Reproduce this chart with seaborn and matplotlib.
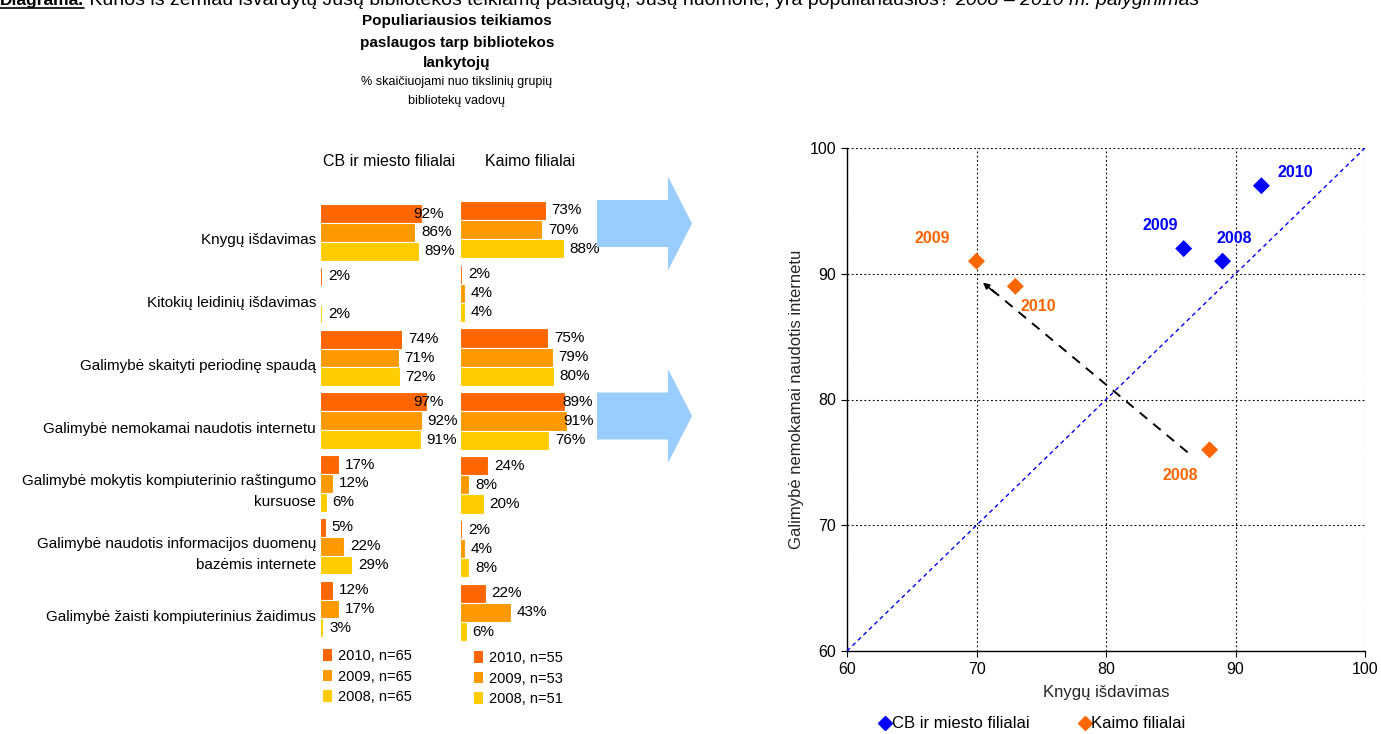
import matplotlib
matplotlib.use("Agg")
import matplotlib.pyplot as plt
import seaborn as sns
import pandas as pd
import numpy as np
from matplotlib.lines import Line2D
from matplotlib.patches import Patch, Polygon
from matplotlib import transforms

# ---------------------------------------------------------------- data
services = [
    "Knygų išdavimas",
    "Kitokių leidinių išdavimas",
    "Galimybė skaityti periodinę spaudą",
    "Galimybė nemokamai naudotis internetu",
    "Galimybė mokytis kompiuterinio raštingumo\nkursuose",
    "Galimybė naudotis informacijos duomenų\nbazėmis internete",
    "Galimybė žaisti kompiuterinius žaidimus",
]
years = ["2010", "2009", "2008"]
groups = ["CB ir miesto filialai", "Kaimo filialai"]

cb_2010 = [92, 2, 74, 97, 17, 5, 12]
cb_2009 = [86, np.nan, 71, 92, 12, 22, 17]
cb_2008 = [89, 2, 72, 91, 6, 29, 3]
kaimo_2010 = [73, 2, 75, 89, 24, 2, 22]
kaimo_2009 = [70, 4, 79, 91, 8, 4, 43]
kaimo_2008 = [88, 4, 80, 76, 20, 8, 6]
cb_n = [65, 65, 65]
kaimo_n = [55, 53, 51]

# ---------------------------------------------------------------- style
sns.set_theme(style="white")
plt.rcParams["font.family"] = ["Liberation Sans", "DejaVu Sans"]
plt.rcParams["text.color"] = "black"

year_colors = ["#FF6600", "#FF9900", "#FFCC00"]
blue = "#0000FF"
orange = "#FF6600"
FS = 11

W, H = 1381, 734
fig = plt.figure(figsize=(W / 100, H / 100), dpi=100)


def fx(x):
    return x / W


def fy(y):
    return 1 - y / H


def box(l, t, r, b):
    return [fx(l), fy(b), (r - l) / W, (b - t) / H]


def long_form(v2010, v2009, v2008):
    rows = []
    for yr, vals in zip(years, (v2010, v2009, v2008)):
        for s, v in zip(services, vals):
            if not np.isnan(v):
                rows.append({"service": s, "year": yr, "value": v})
    return pd.DataFrame(rows)


def bar_panel(ax, df, pad, caps):
    sns.barplot(data=df, y="service", x="value", hue="year", order=services,
                hue_order=years, palette=year_colors, saturation=1, width=0.9,
                orient="h", errorbar=None, legend=False, edgecolor="white",
                linewidth=0.8, ax=ax)
    ax.set_xlim(0, 100)
    ax.set_ylim(6.5, -0.5)
    for sp in ax.spines.values():
        sp.set_visible(False)
    ax.set_xticks([])
    ax.set_yticks([])
    ax.set_xlabel("")
    ax.set_ylabel("")
    ax.patch.set_alpha(0)
    for cont, cap in zip(ax.containers, caps):
        for bar in cont:
            w = bar.get_width()
            if np.isnan(w):
                continue
            yc = bar.get_y() + bar.get_height() / 2
            ax.text(min(w + pad, cap), yc, f"{w:.0f}%", ha="left", va="center",
                    fontsize=FS, clip_on=False)


# ---------------------------------------------------------------- bar panels
ax_cb = fig.add_axes(box(320, 201, 430.7, 640.4))
bar_panel(ax_cb, long_form(cb_2010, cb_2009, cb_2008), 5.3, [84, 999, 999])

ax_k = fig.add_axes(box(460, 197.6, 577.7, 644.4))
bar_panel(ax_k, long_form(kaimo_2010, kaimo_2009, kaimo_2008), 4.8, [87, 87.5, 999])

# service names, right-aligned next to the first panel
shift = transforms.ScaledTranslation(-4 / 100, -8 / 100, fig.dpi_scale_trans)
for i, s in enumerate(services):
    ax_cb.text(0, i, s, ha="right", va="center", fontsize=FS,
               linespacing=1.6, transform=ax_cb.get_yaxis_transform() + shift)

# column headers
fig.text(fx(389), fy(161), groups[0], ha="center", va="center", fontsize=11.5)
fig.text(fx(530), fy(161), groups[1], ha="center", va="center", fontsize=11.5)

# per-panel year legends
for ax, ns, x0, y0 in ((ax_cb, cb_n, 323, 649), (ax_k, kaimo_n, 474, 651)):
    handles = [Patch(facecolor=c, edgecolor="none") for c in year_colors]
    labels = [f"{y}, n={n}" for y, n in zip(years, ns)]
    ax.legend(handles, labels, loc="upper left", bbox_to_anchor=(fx(x0), fy(y0)),
              bbox_transform=fig.transFigure, frameon=False, fontsize=10.5,
              handlelength=0.62, handleheight=0.8, handletextpad=0.4,
              labelspacing=0.45, borderpad=0, borderaxespad=0)

# panel title
title_lines = ["Populiariausios teikiamos", "paslaugos tarp bibliotekos", "lankytojų"]
for txt, y in zip(title_lines, (21, 43, 63)):
    fig.text(fx(457), fy(y), txt, ha="center", va="center", fontsize=11,
             fontweight="bold")
for txt, y in zip(["% skaičiuojami nuo tikslinių grupių", "bibliotekų vadovų"], (82, 101)):
    fig.text(fx(457), fy(y), txt, ha="center", va="center", fontsize=9)

# light blue block arrows between the panels and the scatter chart
for yc in (223.5, 416):
    pts = [(597, yc - 23.5), (668, yc - 23.5), (668, yc - 47), (692, yc),
           (668, yc + 47), (668, yc + 23.5), (597, yc + 23.5)]
    fig.add_artist(Polygon([(fx(x), fy(y)) for x, y in pts], closed=True,
                           facecolor="#99CCFF", edgecolor="none",
                           transform=fig.transFigure))

# heading line at the very top
renderer = fig.canvas.get_renderer()
base = fy(5)
t1 = fig.text(0, base, "Diagrama.", fontsize=12.5, fontweight="bold", va="baseline")
bb = t1.get_window_extent(renderer)
fig.add_artist(Line2D([bb.x0 / W, bb.x1 / W], [fy(7.5)] * 2, color="black", lw=1.2,
                      transform=fig.transFigure))
t2 = fig.text(bb.x1 / W, base,
              " Kurios iš žemiau išvardytų Jūsų bibliotekos teikiamų paslaugų, "
              "Jūsų nuomone, yra populiariausios? ",
              fontsize=14, va="baseline")
bb2 = t2.get_window_extent(renderer)
fig.text(bb2.x1 / W, base, "2008 – 2010 m. palyginimas", fontsize=14,
         fontstyle="italic", va="baseline")

# ---------------------------------------------------------------- scatter
knygos_cb = [cb_2008[0], cb_2009[0], cb_2010[0]]
internet_cb = [cb_2008[3], cb_2009[3], cb_2010[3]]
knygos_k = [kaimo_2008[0], kaimo_2009[0], kaimo_2010[0]]
internet_k = [kaimo_2008[3], kaimo_2009[3], kaimo_2010[3]]
sc_years = ["2008", "2009", "2010"]
sc = pd.DataFrame({
    "group": [groups[0]] * 3 + [groups[1]] * 3,
    "year": sc_years * 2,
    "knygos": knygos_cb + knygos_k,
    "internetas": internet_cb + internet_k,
})

ax_s = fig.add_axes(box(847, 148, 1365, 651))
lims = (60, 100)
ax_s.set_xlim(*lims)
ax_s.set_ylim(*lims)
ticks = np.arange(60, 101, 10)
ax_s.set_xticks(ticks)
ax_s.set_yticks(ticks)
ax_s.grid(True, color="black", linestyle=(0, (1.6, 2.2)), linewidth=0.8)
ax_s.plot(lims, lims, color=blue, linestyle=(0, (3, 2.5)), linewidth=1, zorder=3)

sns.scatterplot(data=sc, x="knygos", y="internetas", hue="group",
                palette=[blue, orange], marker="D", s=75, linewidth=0,
                legend=False, ax=ax_s, zorder=5, clip_on=False)

# year labels next to each point (offsets in pixels)
label_offsets = {
    (groups[0], "2008"): (12, 23), (groups[0], "2009"): (-23, 23),
    (groups[0], "2010"): (34, 13),
    (groups[1], "2008"): (-29, -26), (groups[1], "2009"): (-44, 23),
    (groups[1], "2010"): (23, -20),
}
for _, r in sc.iterrows():
    dx, dy = label_offsets[(r["group"], r["year"])]
    ax_s.annotate(r["year"], (r["knygos"], r["internetas"]),
                  xytext=(dx * 0.72, dy * 0.72), textcoords="offset points",
                  ha="center", va="center", fontsize=11.5, fontweight="bold",
                  color=blue if r["group"] == groups[0] else orange)

# trend arrow for rural branches
tail, head = (86.3, 75.8), (70.5, 89.3)
ax_s.plot([tail[0], head[0] + 0.6], [tail[1], head[1] - 0.5], color="black",
          linestyle=(0, (5, 4)), linewidth=1.4, zorder=4)
ax_s.annotate("", xy=head, xytext=(head[0] + 0.9, head[1] - 0.8),
              arrowprops=dict(arrowstyle="-|>", color="black", lw=1.2,
                              mutation_scale=9, shrinkA=0, shrinkB=0))

for side in ("top", "right"):
    ax_s.spines[side].set_visible(False)
for side in ("left", "bottom"):
    ax_s.spines[side].set_color("black")
    ax_s.spines[side].set_linewidth(1)
ax_s.tick_params(direction="out", length=4, width=0.8, colors="black",
                 labelsize=11.5, pad=4, left=True, bottom=True)
ax_s.set_xlabel("Knygų išdavimas", fontsize=12)
ax_s.set_ylabel("Galimybė nemokamai naudotis internetu", fontsize=12)
ax_s.xaxis.label.set_va("center")
ax_s.yaxis.label.set_va("center")
ax_s.xaxis.set_label_coords(0.5, -(693 - 651) / 503)
ax_s.yaxis.set_label_coords(-(847 - 797) / 518, 0.5)

leg_handles = [Line2D([], [], marker="D", linestyle="none", color=c, markersize=7.5)
               for c in (blue, orange)]
fig.legend(leg_handles, groups, loc="center", bbox_to_anchor=(fx(1033), fy(724)),
           ncol=2, frameon=False, fontsize=12, handlelength=0.6,
           handletextpad=0.1, columnspacing=3.0, borderpad=0)

fig.savefig("out.png", dpi=100)
